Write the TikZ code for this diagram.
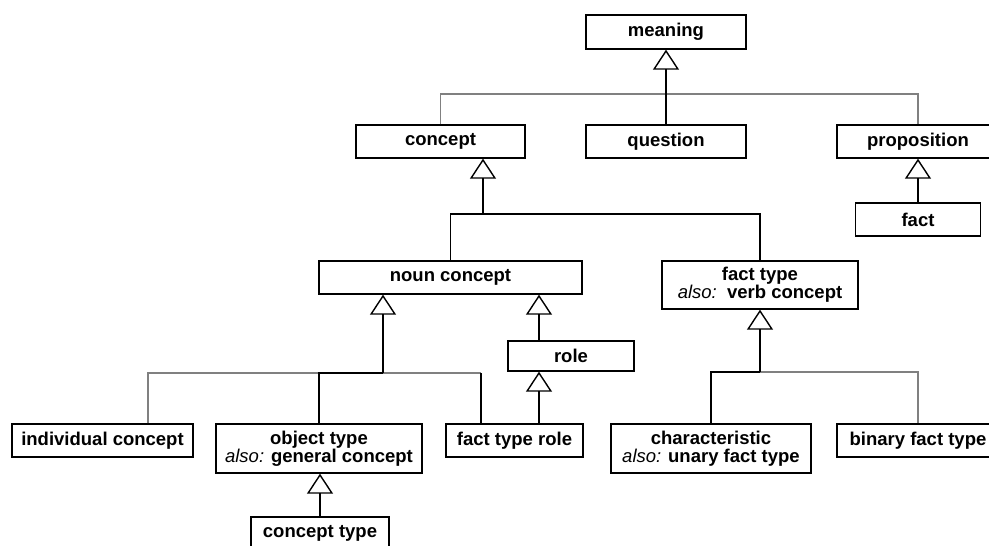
\documentclass[tikz,border=0pt]{standalone}
\usepackage{fontspec}
\setmainfont{Liberation Sans}
\usetikzlibrary{arrows.meta}
\newcommand\alsotag{\textit{\mdseries also:}}
\begin{document}
\begin{tikzpicture}[x=1pt,y=-1pt,
  box/.style={draw, line width=1.4pt, inner sep=0pt, align=center,
    font=\bfseries\fontsize{18.5}{18}\selectfont},
  gen/.style={-{Triangle[open,length=20pt,width=26pt]}, line width=1.4pt},
  strong/.style={line width=1.4pt},
  weak/.style={line width=1.4pt, draw=black!50}]
\useasboundingbox (0,0) rectangle (989,546);
\clip (0,0) rectangle (989,546);

% concept boxes
\node[box, minimum width=160pt, minimum height=34pt] (meaning) at (666,32) {meaning};
\node[box, minimum width=169pt, minimum height=33pt] (concept) at (440.5,141.5) {concept};
\node[box, minimum width=160pt, minimum height=33pt] (question) at (666,141.5) {question};
\node[box, minimum width=162pt, minimum height=33pt] (proposition) at (918,141.5) {proposition};
\node[box, minimum width=125pt, minimum height=33pt] (fact) at (918,219.5) {fact};
\node[box, minimum width=263pt, minimum height=33pt] (noun) at (450.5,277.5) {noun concept};
\node[box, minimum width=196pt, minimum height=48pt] (facttype) at (760,285) {fact type\\\alsotag{}\ \ verb concept};
\node[box, minimum width=126pt, minimum height=30pt] (role) at (571,356) {role};
\node[box, minimum width=181pt, minimum height=33pt] (indiv) at (102.5,440.5) {individual concept};
\node[box, minimum width=206pt, minimum height=49pt] (object) at (319,448.5) {object type\\\alsotag{} general concept};
\node[box, minimum width=137pt, minimum height=33pt] (ftrole) at (514.5,440.5) {fact type role};
\node[box, minimum width=200pt, minimum height=49pt] (charac) at (711,448.5) {characteristic\\\alsotag{} unary fact type};
\node[box, minimum width=162pt, minimum height=33pt] (binary) at (918,440.5) {binary fact type};
\node[box, minimum width=138pt, minimum height=33pt] (ctype) at (320,533.5) {concept type};

% junction points of the hierarchy
\coordinate (mjoin) at (666,94);
\coordinate (cjoin) at (483,214);
\coordinate (njoin) at (383,373);
\coordinate (nleft) at (148,373);
\coordinate (nright) at (481,373);
\coordinate (rline) at (539,0);
\coordinate (fjoin) at (760,372);

% secondary branches (grey)
\draw[weak] (concept.north) |- (mjoin) -| (proposition.north);
\draw[weak] (indiv.north -| nleft) -- (nleft) -- (nright);
\draw[weak] (fjoin) -| (binary.north);

% primary branches (black)
\draw[strong] (nright) -- (ftrole.north -| nright);
\draw[gen] (question.north) -- (meaning.south);
\draw[gen] (fact.north) -- (proposition.south);
\draw[strong] (noun.north) |- (cjoin) -| (facttype.north);
\draw[gen] (cjoin) -- (concept.south -| cjoin);
\draw[strong] (object.north) |- (njoin);
\draw[gen] (njoin) -- (noun.south -| njoin);
\draw[gen] (role.north -| rline) -- (noun.south -| rline);
\draw[gen] (ftrole.north -| rline) -- (role.south -| rline);
\draw[strong] (charac.north) |- (fjoin);
\draw[gen] (fjoin) -- (facttype.south);
\draw[gen] (ctype.north) -- (object.south -| ctype.north);
\end{tikzpicture}
\end{document}
